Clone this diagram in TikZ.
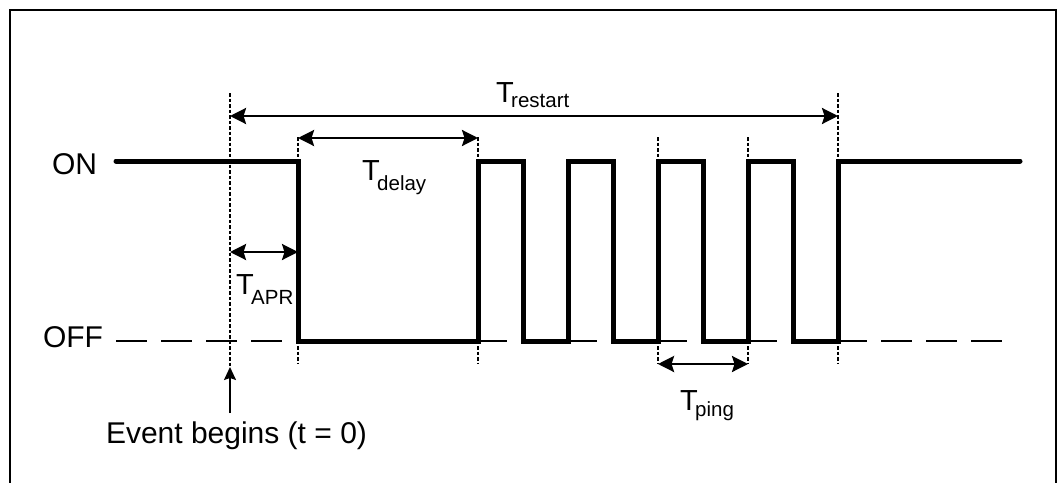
\documentclass[tikz,border=0pt]{standalone}
\usepackage{fontspec}
\setmainfont{Liberation Sans}
\usetikzlibrary{arrows.meta}
\newcommand{\tlab}[2]{{\fontsize{29}{31}\selectfont T}\kern-2.5pt\raisebox{-#2pt}{\fontsize{20.5}{22}\selectfont #1}}
\tikzset{
  signal/.style={line width=5pt, line cap=round, line join=miter},
  offline/.style={line width=2.2pt, dash pattern=on 31pt off 14pt},
  guide/.style={line width=1.5pt, dash pattern=on 3.5pt off 2pt},
  dimarrow/.style={line width=2.6pt, {Stealth[length=16pt,width=16pt,inset=2.5pt]}-{Stealth[length=16pt,width=16pt,inset=2.5pt]}},
  evarrow/.style={line width=1.7pt, -{Stealth[length=13pt,width=12pt,inset=2pt]}},
  lbl/.style={inner sep=0pt, outer sep=0pt},
  frame/.style={line width=2.2pt}
}
\begin{document}
\begin{tikzpicture}[x=1pt,y=-1pt]
\useasboundingbox (0,0) rectangle (1057,482);
% frame
\draw[frame] (10,490) -- (10,10) -- (1056,10) -- (1056,490);
% guide coordinates
\coordinate (g0t) at (230,93);   \coordinate (g0b) at (230,367);
\coordinate (g1t) at (298,137);  \coordinate (g1b) at (298,363);
\coordinate (g2t) at (478,137);  \coordinate (g2b) at (478,363);
\coordinate (g3t) at (658,137);  \coordinate (g3b) at (658,363);
\coordinate (g4t) at (748,137);  \coordinate (g4b) at (748,363);
\coordinate (g5t) at (838,93);   \coordinate (g5b) at (838,363);
% OFF dashed baseline
\coordinate (offs) at (116,341); \coordinate (offe) at (1003,341);
\draw[offline] (offs) -- (offe);
% vertical guides
\foreach \i in {0,...,5} { \draw[guide] (g\i t) -- (g\i b); }
% signal
\coordinate (ons) at (116,161); \coordinate (one) at (1020,161);
\draw[signal] (ons) -- (298,161) -- (298,341) -- (478,341) -- (478,161)
  -- (523,161) -- (523,341) -- (568,341) -- (568,161)
  -- (613,161) -- (613,341) -- (658,341) -- (658,161)
  -- (703,161) -- (703,341) -- (748,341) -- (748,161)
  -- (793,161) -- (793,341) -- (838,341) -- (838,161) -- (one);
% dimension arrows
\coordinate (rs) at (230,116); \coordinate (re) at (838,116);
\draw[dimarrow] (rs) -- (re);
\coordinate (ds) at (298,138); \coordinate (de) at (478,138);
\draw[dimarrow] (ds) -- (de);
\coordinate (as) at (230,252); \coordinate (ae) at (298,252);
\draw[dimarrow] (as) -- (ae);
\coordinate (ps) at (658,364); \coordinate (pe) at (748,364);
\draw[dimarrow] (ps) -- (pe);
% event arrow
\coordinate (evs) at (230,413);
\draw[evarrow] (evs) -- (g0b);
% labels
\node[lbl, anchor=base east] (on) at (97,174) {\fontsize{30}{32}\selectfont ON};
\node[lbl, anchor=base east] (off) at (103,347) {\fontsize{30}{32}\selectfont OFF};
\node[lbl, anchor=base west] (trestart) at (496,102) {\tlab{restart}{5}};
\node[lbl, anchor=base west] (tdelay) at (362,180) {\tlab{delay}{10}};
\node[lbl, anchor=base west] (tapr) at (236,294) {\tlab{APR}{10}};
\node[lbl, anchor=base west] (tping) at (680,410) {\tlab{ping}{6}};
\node[lbl, anchor=base west] (event) at (106,443) {\fontsize{30}{32}\selectfont Event begins (t = 0)};
\end{tikzpicture}
\end{document}
